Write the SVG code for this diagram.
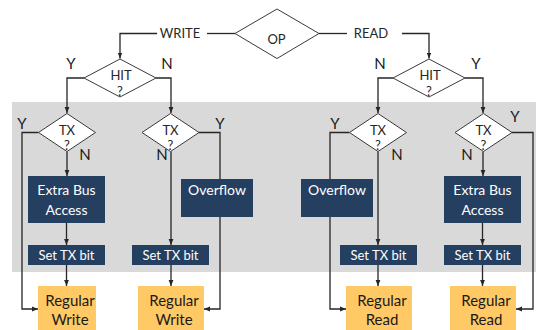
<svg xmlns="http://www.w3.org/2000/svg" width="537" height="330" viewBox="0 0 537 330">
  <defs>
    <style>
      .bg { fill: #d9d9d9; }
      .dia { fill: #ffffff; stroke: #3a3a3a; stroke-width: 1; }
      .navy { fill: #253f61; }
      .gold { fill: #ffc966; }
      .wire { fill: none; stroke: #262626; stroke-width: 1.3; }
      text { font-family: "Lato", "Open Sans", "Liberation Sans", sans-serif; text-anchor: middle; }
      .lbl { font-size: 13px; fill: #262626; }
      .yn { font-size: 15px; fill: #1a1a1a; }
      .dt { font-size: 13px; fill: #262626; }
      .wt { font-size: 14px; fill: #ffffff; }
      .st { font-size: 13px; fill: #ffffff; }
      .bt { font-size: 15px; fill: #1a1a1a; }
    </style>
    <marker id="arr" viewBox="0 0 10 10" refX="10" refY="5" markerWidth="6" markerHeight="6" orient="auto" markerUnits="userSpaceOnUse">
      <path d="M0,1 L10,5 L0,9 z" fill="#262626"/>
    </marker>
  </defs>

  <!-- shaded band behind the transaction checks -->
  <rect class="bg" x="12" y="102" width="524" height="170"/>

  <!-- connectors -->
  <g id="connectors">
    <path class="wire" d="M235,33.5 H207"/>
    <path class="wire" d="M157,33.5 H120 V58.5" marker-end="url(#arr)"/>
    <path class="wire" d="M319,33.5 H347"/>
    <path class="wire" d="M402,33.5 H429 V58.5" marker-end="url(#arr)"/>

    <path class="wire" d="M84,78 H67 V113" marker-end="url(#arr)"/>
    <path class="wire" d="M156,78 H171 V113" marker-end="url(#arr)"/>
    <path class="wire" d="M393,78 H378 V113" marker-end="url(#arr)"/>
    <path class="wire" d="M465,78 H483 V113" marker-end="url(#arr)"/>

    <path class="wire" d="M38.5,132.5 H22 V309 H38" marker-end="url(#arr)"/>
    <path class="wire" d="M67,151.5 V176" marker-end="url(#arr)"/>
    <path class="wire" d="M66.5,223 V245" marker-end="url(#arr)"/>
    <path class="wire" d="M66.5,265 V286" marker-end="url(#arr)"/>

    <path class="wire" d="M199,132.5 H220 V309 H204" marker-end="url(#arr)"/>
    <path class="wire" d="M171,151.5 V245" marker-end="url(#arr)"/>
    <path class="wire" d="M171,265 V286" marker-end="url(#arr)"/>

    <path class="wire" d="M349.5,132.5 H330 V309 H346" marker-end="url(#arr)"/>
    <path class="wire" d="M378,151.5 V245" marker-end="url(#arr)"/>
    <path class="wire" d="M378,265 V286" marker-end="url(#arr)"/>

    <path class="wire" d="M512,132.5 H533 V309 H516" marker-end="url(#arr)"/>
    <path class="wire" d="M483,151.5 V176" marker-end="url(#arr)"/>
    <path class="wire" d="M482.5,223 V245" marker-end="url(#arr)"/>
    <path class="wire" d="M482.5,265 V286" marker-end="url(#arr)"/>

    <text class="lbl" x="180" y="37.5">WRITE</text>
    <text class="lbl" x="371" y="37.5">READ</text>

    <text class="yn" x="71" y="68.5">Y</text>
    <text class="yn" x="167" y="68.5">N</text>
    <text class="yn" x="380" y="68.5">N</text>
    <text class="yn" x="476" y="68.5">Y</text>

    <text class="yn" x="22" y="128.5">Y</text>
    <text class="yn" x="85" y="160">N</text>
    <text class="yn" x="220" y="128.5">Y</text>
    <text class="yn" x="162" y="160">N</text>
    <text class="yn" x="335" y="128.5">Y</text>
    <text class="yn" x="397" y="160">N</text>
    <text class="yn" x="515" y="122">Y</text>
    <text class="yn" x="467" y="160">N</text>
  </g>

  <!-- decisions -->
  <g id="op">
    <polygon class="dia" points="277,9 319,33.5 277,58.5 235,33.5"/>
    <text class="lbl" x="276.5" y="44">OP</text>
  </g>
  <g id="hit-write">
    <polygon class="dia" points="120,59 156,78 120,97 84,78"/>
    <text class="dt" x="121" y="80">HIT</text>
    <text class="dt" x="120" y="95.5">?</text>
  </g>
  <g id="hit-read">
    <polygon class="dia" points="429,59 465,78 429,97 393,78"/>
    <text class="dt" x="430" y="80">HIT</text>
    <text class="dt" x="429" y="95.5">?</text>
  </g>
  <g id="tx-write-hit">
    <polygon class="dia" points="67,113.5 95.5,132.5 67,151.5 38.5,132.5"/>
    <text class="dt" x="67" y="134.5">TX</text>
    <text class="dt" x="67" y="149.5">?</text>
  </g>
  <g id="tx-write-miss">
    <polygon class="dia" points="170.5,113.5 199,132.5 170.5,151.5 142,132.5"/>
    <text class="dt" x="170.5" y="134.5">TX</text>
    <text class="dt" x="170.5" y="149.5">?</text>
  </g>
  <g id="tx-read-miss">
    <polygon class="dia" points="378,113.5 406.5,132.5 378,151.5 349.5,132.5"/>
    <text class="dt" x="378" y="134.5">TX</text>
    <text class="dt" x="378" y="149.5">?</text>
  </g>
  <g id="tx-read-hit">
    <polygon class="dia" points="483.5,113.5 512,132.5 483.5,151.5 455,132.5"/>
    <text class="dt" x="483.5" y="134.5">TX</text>
    <text class="dt" x="483.5" y="149.5">?</text>
  </g>

  <!-- actions -->
  <g id="extra-bus-write">
    <rect class="navy" x="28" y="176" width="77" height="47"/>
    <text class="wt" x="66.5" y="195">Extra Bus</text>
    <text class="wt" x="66.5" y="215">Access</text>
  </g>
  <g id="overflow-write">
    <rect class="navy" x="181" y="179" width="72" height="38"/>
    <text class="wt" x="217" y="195">Overflow</text>
  </g>
  <g id="overflow-read">
    <rect class="navy" x="301" y="179" width="72" height="38"/>
    <text class="wt" x="337" y="195">Overflow</text>
  </g>
  <g id="extra-bus-read">
    <rect class="navy" x="444" y="176" width="77" height="47"/>
    <text class="wt" x="482.5" y="195">Extra Bus</text>
    <text class="wt" x="482.5" y="215">Access</text>
  </g>

  <g id="set-tx-1">
    <rect class="navy" x="28" y="245" width="77" height="20"/>
    <text class="st" x="66.5" y="260">Set TX bit</text>
  </g>
  <g id="set-tx-2">
    <rect class="navy" x="132" y="245" width="77" height="20"/>
    <text class="st" x="170.5" y="260">Set TX bit</text>
  </g>
  <g id="set-tx-3">
    <rect class="navy" x="340" y="245" width="77" height="20"/>
    <text class="st" x="378.5" y="260">Set TX bit</text>
  </g>
  <g id="set-tx-4">
    <rect class="navy" x="444" y="245" width="77" height="20"/>
    <text class="st" x="482.5" y="260">Set TX bit</text>
  </g>

  <g id="regular-write-1">
    <rect class="gold" x="38" y="286" width="58" height="44"/>
    <text class="bt" x="70" y="305.5">Regular</text>
    <text class="bt" x="70" y="325">Write</text>
  </g>
  <g id="regular-write-2">
    <rect class="gold" x="138" y="286" width="66" height="44"/>
    <text class="bt" x="174" y="305.5">Regular</text>
    <text class="bt" x="174" y="325">Write</text>
  </g>
  <g id="regular-read-1">
    <rect class="gold" x="346" y="286" width="66" height="44"/>
    <text class="bt" x="382" y="305.5">Regular</text>
    <text class="bt" x="382" y="325">Read</text>
  </g>
  <g id="regular-read-2">
    <rect class="gold" x="450" y="286" width="66" height="44"/>
    <text class="bt" x="486" y="305.5">Regular</text>
    <text class="bt" x="486" y="325">Read</text>
  </g>
</svg>
